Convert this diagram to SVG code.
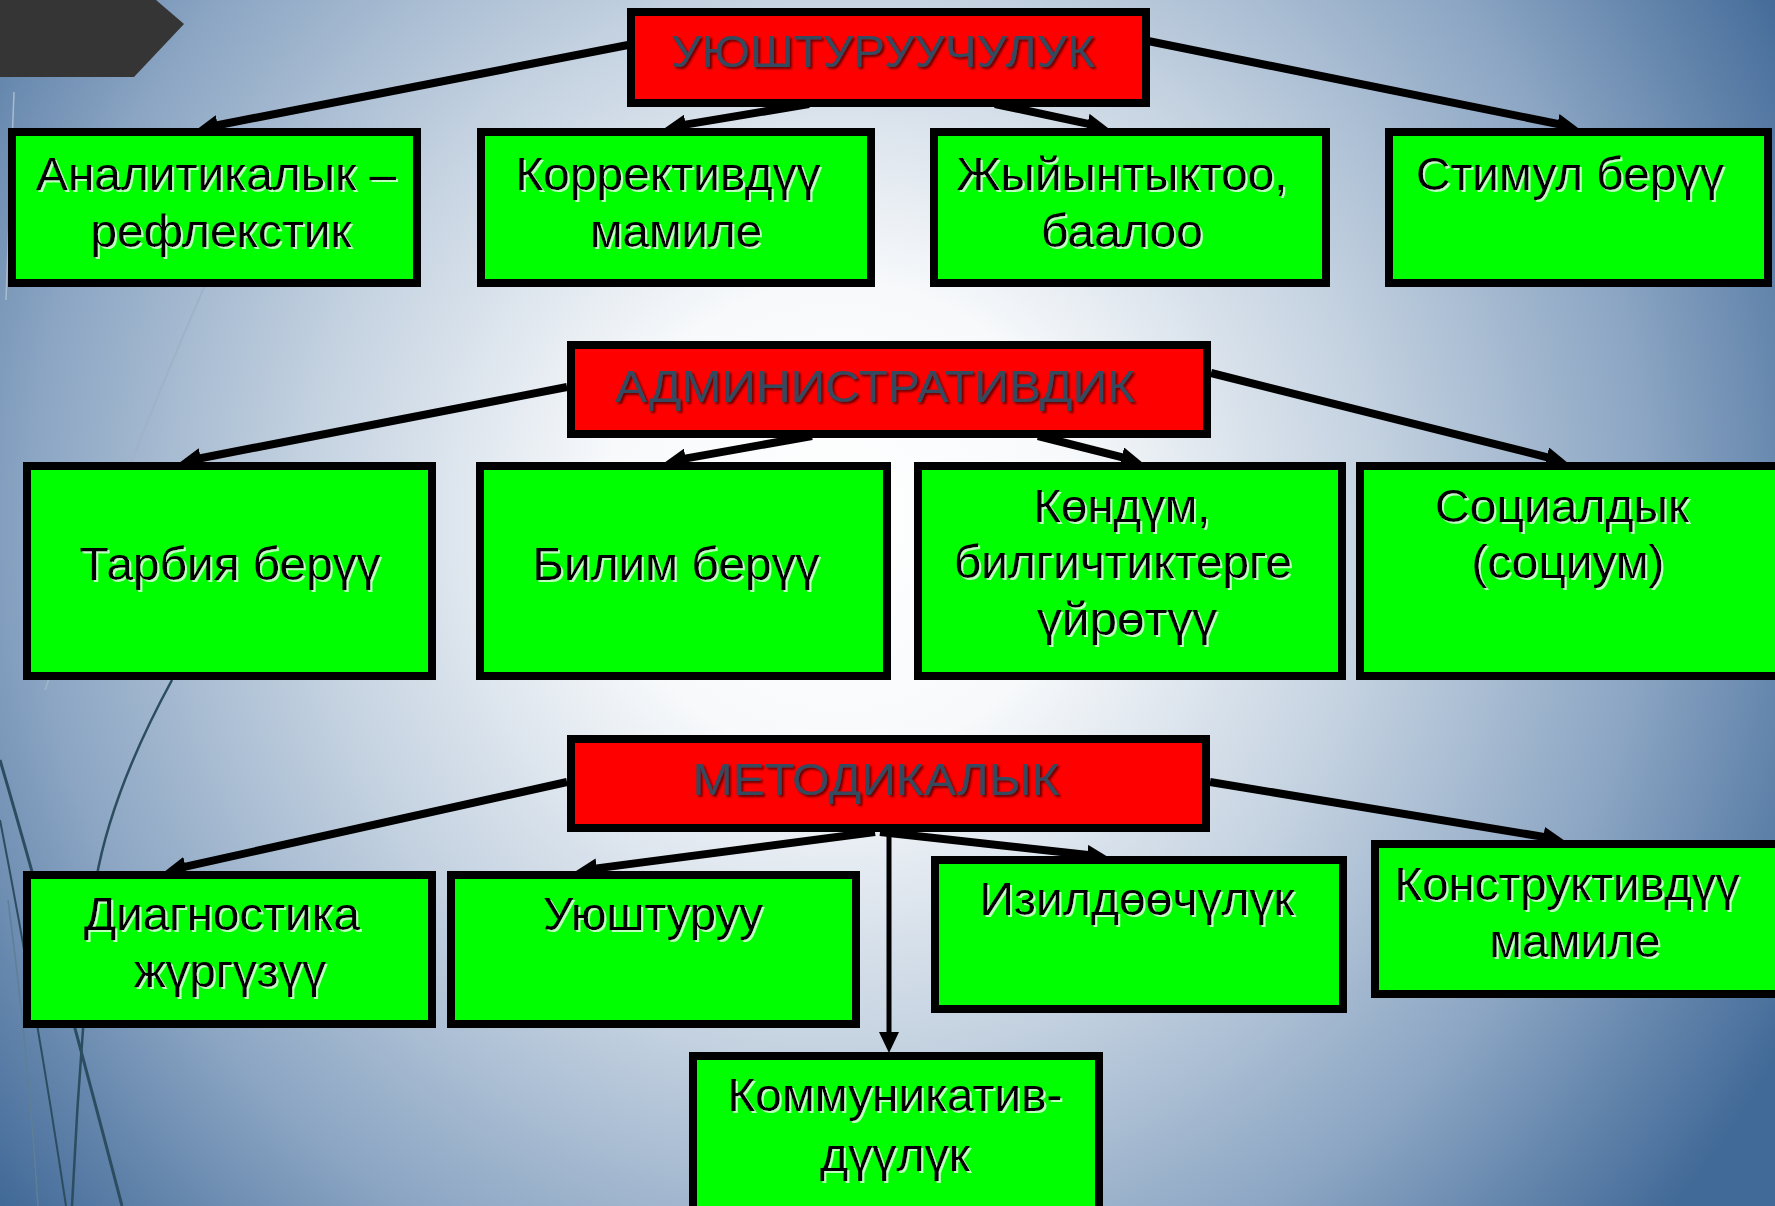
<svg xmlns="http://www.w3.org/2000/svg" width="1775" height="1206" viewBox="0 0 1775 1206">
<defs>
<radialGradient id="bg" gradientUnits="userSpaceOnUse" cx="840" cy="520" r="1080">
<stop offset="0" stop-color="#ffffff"/>
<stop offset="0.22" stop-color="#f7f9fb"/>
<stop offset="0.5" stop-color="#c3d1e0"/>
<stop offset="0.75" stop-color="#8ba5c3"/>
<stop offset="1" stop-color="#426a98"/>
</radialGradient>
<marker id="arr" markerUnits="userSpaceOnUse" markerWidth="22" markerHeight="20" refX="8" refY="10" orient="auto" viewBox="0 0 22 20">
<path d="M0,0 L21,10 L0,20 z" fill="#000"/>
</marker>
<filter id="sh-light" x="-5%" y="-20%" width="110%" height="140%">
<feDropShadow dx="2" dy="2" stdDeviation="0.6" flood-color="#ffffff" flood-opacity="0.75"/>
</filter>
<filter id="sh-dark" x="-5%" y="-20%" width="110%" height="140%">
<feDropShadow dx="2" dy="2" stdDeviation="0.8" flood-color="#000000" flood-opacity="0.6"/>
</filter>
</defs>
<style>
.g rect{fill:#00ff00;stroke:#000;stroke-width:8}
.r rect{fill:#ff0000;stroke:#000;stroke-width:8}
.gt{font-family:"Liberation Sans",Arial,sans-serif;font-size:46px;fill:#000;text-anchor:middle;filter:url(#sh-light)}
.rt{font-family:"Liberation Sans",Arial,sans-serif;font-size:44px;fill:#34495e;text-anchor:middle;filter:url(#sh-dark)}
.c line{stroke:#000;stroke-width:8;marker-end:url(#arr)}
.deco{fill:none}
</style>
<rect x="0" y="0" width="1775" height="1206" fill="url(#bg)"/>
<g id="background-deco" class="deco">
<polygon points="0,0 156,0 184,24 134,77 0,77" fill="#353535"/>
<path d="M14 92 L6 300" stroke="#a9bbcf" stroke-width="1.5"/>
<path d="M205 285 Q120 480 45 690" stroke="#9fb3c8" stroke-width="2"/>
<path d="M172 680 Q112 790 96 880 Q80 1040 72 1206" stroke="#2c4d60" stroke-width="2.5"/>
<path d="M0 760 Q50 930 122 1206" stroke="#2c4d60" stroke-width="3"/>
<path d="M0 820 Q35 1000 66 1206" stroke="#2c4d60" stroke-width="2"/>
<path d="M8 900 Q28 1050 38 1206" stroke="#5e7f96" stroke-width="1.5"/>
</g>
<g id="connectors" class="c">
<line x1="628" y1="45" x2="209.8" y2="126.7"/>
<line x1="809" y1="104" x2="677.8" y2="125.9"/>
<line x1="995" y1="104" x2="1095.3" y2="125.3"/>
<line x1="1148" y1="41" x2="1565.3" y2="125.5"/>
<line x1="567" y1="387" x2="192.8" y2="459.7"/>
<line x1="812" y1="436" x2="677.8" y2="459.9"/>
<line x1="1038" y1="436" x2="1129.4" y2="459.1"/>
<line x1="1211" y1="373" x2="1554.4" y2="459.1"/>
<line x1="567" y1="782" x2="177.7" y2="868.4"/>
<line x1="875" y1="832" x2="588.9" y2="869.4"/>
<line x1="880" y1="832" x2="1095.1" y2="855.7"/>
<line x1="1210" y1="782" x2="1551.2" y2="838.1"/>
<line x1="889" y1="832" x2="889" y2="1040" style="stroke-width:5"/>
</g>
<g id="n-uyushturuuchuluk" class="r"><rect x="631" y="12" width="515" height="91"/><text class="rt" x="883" y="67" textLength="424" lengthAdjust="spacingAndGlyphs">УЮШТУРУУЧУЛУК</text></g>
<g id="n-analitikalyk" class="g"><rect x="12" y="132" width="405" height="151"/><text class="gt" x="216" y="190" textLength="360" lengthAdjust="spacingAndGlyphs">Аналитикалык –</text><text class="gt" x="221" y="247" textLength="261" lengthAdjust="spacingAndGlyphs">рефлекстик</text></g>
<g id="n-korrektivduu" class="g"><rect x="481" y="132" width="390" height="151"/><text class="gt" x="668" y="190" textLength="305" lengthAdjust="spacingAndGlyphs">Коррективдүү</text><text class="gt" x="676" y="247" textLength="172" lengthAdjust="spacingAndGlyphs">мамиле</text></g>
<g id="n-jyiyntyktoo" class="g"><rect x="934" y="132" width="392" height="151"/><text class="gt" x="1122" y="190" textLength="331" lengthAdjust="spacingAndGlyphs">Жыйынтыктоо,</text><text class="gt" x="1122" y="247" textLength="162" lengthAdjust="spacingAndGlyphs">баалоо</text></g>
<g id="n-stimul" class="g"><rect x="1389" y="132" width="379" height="151"/><text class="gt" x="1570" y="190" textLength="308" lengthAdjust="spacingAndGlyphs">Стимул берүү</text></g>
<g id="n-administrativdik" class="r"><rect x="571" y="345" width="636" height="89"/><text class="rt" x="875" y="402" textLength="520" lengthAdjust="spacingAndGlyphs">АДМИНИСТРАТИВДИК</text></g>
<g id="n-tarbiya" class="g"><rect x="27" y="466" width="405" height="210"/><text class="gt" x="230" y="580" textLength="301" lengthAdjust="spacingAndGlyphs">Тарбия берүү</text></g>
<g id="n-bilim" class="g"><rect x="480" y="466" width="407" height="210"/><text class="gt" x="676" y="580" textLength="287" lengthAdjust="spacingAndGlyphs">Билим берүү</text></g>
<g id="n-kondum" class="g"><rect x="918" y="466" width="424" height="210"/><text class="gt" x="1122" y="522" textLength="177" lengthAdjust="spacingAndGlyphs">Көндүм,</text><text class="gt" x="1123" y="578" textLength="338" lengthAdjust="spacingAndGlyphs">билгичтиктерге</text><text class="gt" x="1127" y="635" textLength="180" lengthAdjust="spacingAndGlyphs">үйрөтүү</text></g>
<g id="n-sotsialdyk" class="g"><rect x="1360" y="466" width="430" height="210"/><text class="gt" x="1562" y="522" textLength="254" lengthAdjust="spacingAndGlyphs">Социалдык</text><text class="gt" x="1568" y="578" textLength="193" lengthAdjust="spacingAndGlyphs">(социум)</text></g>
<g id="n-metodikalyk" class="r"><rect x="571" y="739" width="635" height="89"/><text class="rt" x="876" y="795" textLength="367" lengthAdjust="spacingAndGlyphs">МЕТОДИКАЛЫК</text></g>
<g id="n-diagnostika" class="g"><rect x="27" y="875" width="405" height="149"/><text class="gt" x="222" y="930" textLength="276" lengthAdjust="spacingAndGlyphs">Диагностика</text><text class="gt" x="230" y="987" textLength="192" lengthAdjust="spacingAndGlyphs">жүргүзүү</text></g>
<g id="n-uyushturuu" class="g"><rect x="451" y="875" width="405" height="149"/><text class="gt" x="653" y="930" textLength="220" lengthAdjust="spacingAndGlyphs">Уюштуруу</text></g>
<g id="n-izildoochuluk" class="g"><rect x="935" y="860" width="408" height="149"/><text class="gt" x="1137" y="915" textLength="315" lengthAdjust="spacingAndGlyphs">Изилдөөчүлүк</text></g>
<g id="n-konstruktivduu" class="g"><rect x="1375" y="844" width="415" height="150"/><text class="gt" x="1567" y="900" textLength="345" lengthAdjust="spacingAndGlyphs">Конструктивдүү</text><text class="gt" x="1575" y="957" textLength="171" lengthAdjust="spacingAndGlyphs">мамиле</text></g>
<g id="n-kommunikativduuluk" class="g"><rect x="693" y="1056" width="406" height="160"/><text class="gt" x="895" y="1111" textLength="335" lengthAdjust="spacingAndGlyphs">Коммуникатив-</text><text class="gt" x="895" y="1171" textLength="150" lengthAdjust="spacingAndGlyphs">дүүлүк</text></g>
</svg>
